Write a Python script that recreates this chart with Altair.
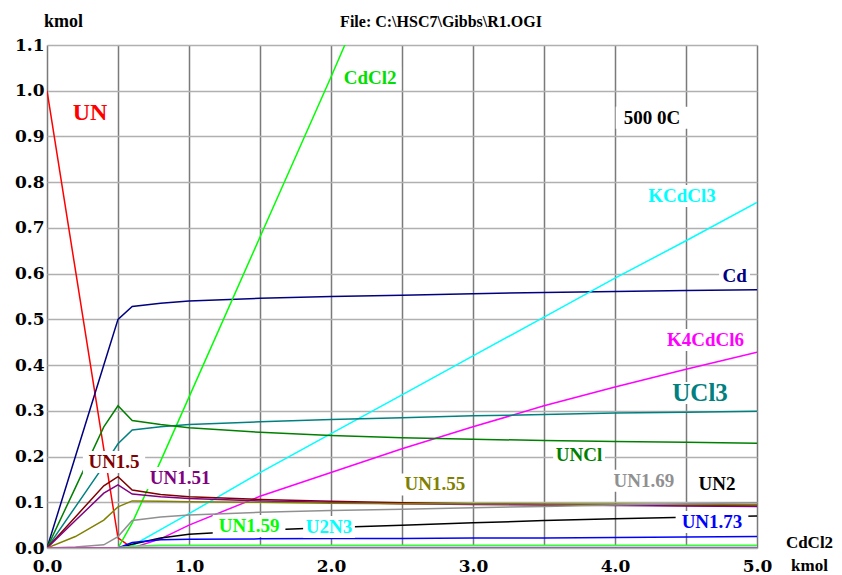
import altair as alt
import pandas as pd

# ---- data ----
x_vals = [0.0, 0.2, 0.4, 0.5, 0.6, 0.8, 1.0, 1.5, 2.0, 2.5, 3.0, 3.5, 4.0, 4.5, 5.0]

series_names = ["UN", "Cd", "CdCl2", "KCdCl3", "K4CdCl6", "UCl3", "UNCl",
                "UN1.5", "UN1.51", "UN1.55", "UN1.69", "UN2", "UN1.73",
                "U2N3", "UN1.59", "other"]
series_colors = ["#FF0000", "#000080", "#00FF00", "#00FFFF", "#FF00FF", "#008080", "#008000",
                 "#800000", "#800080", "#808000", "#909090", "#000000", "#0000FF",
                 "#7FFFD4", "#33FF33", "#E020C0"]

UN      = [1.0, 0.608, 0.216, 0.022, 0.0, 0, 0, 0, 0, 0, 0, 0, 0, 0, 0]
Cd      = [0, 0.2, 0.4, 0.5, 0.528, 0.535, 0.54, 0.546, 0.55, 0.553, 0.556, 0.559, 0.561, 0.563, 0.565]
CdCl2   = [0, 0, 0, 0, 0.055, 0.19, 0.33, 0.68, 1.03, 1.39, 1.75, 2.1, 2.46, 2.81, 3.17]
KCdCl3  = [0, 0, 0, 0, 0.005, 0.04, 0.075, 0.165, 0.25, 0.335, 0.42, 0.505, 0.59, 0.672, 0.756]
K4CdCl6 = [0, 0, 0, 0, 0, 0.02, 0.05, 0.113, 0.165, 0.217, 0.265, 0.311, 0.352, 0.391, 0.428]
UCl3    = [0, 0.09, 0.18, 0.228, 0.258, 0.265, 0.27, 0.276, 0.281, 0.285, 0.289, 0.292, 0.295, 0.297, 0.299]
UNCl    = [0, 0.132, 0.265, 0.311, 0.279, 0.27, 0.263, 0.253, 0.246, 0.241, 0.238, 0.235, 0.233, 0.231, 0.229]
UN1_5   = [0, 0.068, 0.136, 0.156, 0.127, 0.117, 0.112, 0.106, 0.102, 0.099, 0.097, 0.095, 0.094, 0.093, 0.092]
UN1_51  = [0, 0.06, 0.12, 0.138, 0.118, 0.112, 0.108, 0.103, 0.1, 0.097, 0.095, 0.094, 0.093, 0.092, 0.091]
UN1_55  = [0, 0.025, 0.061, 0.09, 0.103, 0.102, 0.101, 0.1, 0.098, 0.097, 0.097, 0.096, 0.096, 0.095, 0.095]
UN1_69  = [0, 0.002, 0.007, 0.025, 0.06, 0.068, 0.072, 0.078, 0.082, 0.085, 0.088, 0.091, 0.094, 0.097, 0.099]
UN2     = [0, 0, 0, 0, 0.008, 0.022, 0.03, 0.039, 0.045, 0.05, 0.055, 0.06, 0.064, 0.067, 0.07]
UN1_73  = [0, 0, 0, 0, 0.012, 0.018, 0.019, 0.02, 0.021, 0.021, 0.022, 0.022, 0.023, 0.024, 0.025]
U2N3    = [0, 0, 0, 0.001, 0.003, 0.003, 0.003, 0.003, 0.003, 0.003, 0.003, 0.003, 0.003, 0.003, 0.003]
UN1_59  = [0, 0, 0, 0, 0.004, 0.006, 0.006, 0.006, 0.006, 0.006, 0.006, 0.006, 0.006, 0.006, 0.006]
OTHER   = [0, 0, 0, 0, 0, 0, 0, 0, 0, 0, 0, 0, 0, 0, 0]

series_values = [UN, Cd, CdCl2, KCdCl3, K4CdCl6, UCl3, UNCl, UN1_5, UN1_51, UN1_55,
                 UN1_69, UN2, UN1_73, U2N3, UN1_59, OTHER]

# labels placed on the chart (data coordinates)
label_text  = ["UN", "CdCl2", "500 0C", "KCdCl3", "Cd", "K4CdCl6", "UCl3", "UNCl",
               "UN1.5", "UN1.51", "UN1.55", "UN1.69", "UN2", "UN1.59", "U2N3", "UN1.73"]
label_x     = [0.303, 2.275, 4.261, 4.472, 4.842, 4.637, 4.599, 3.747,
               0.472, 0.937, 2.732, 4.204, 4.718, 1.423, 1.986, 4.683]
label_y     = [0.952, 1.028, 0.941, 0.770, 0.595, 0.455, 0.339, 0.204,
               0.188, 0.153, 0.139, 0.147, 0.140, 0.048, 0.046, 0.057]
label_color = ["#FF0000", "#00E000", "#000000", "#00FFFF", "#000080", "#FF00FF", "#008080", "#008000",
               "#800000", "#800080", "#808000", "#909090", "#000000", "#00FF00", "#00FFFF", "#0000FF"]
label_size  = [24, 19, 19, 19, 19, 19, 25, 19, 19, 19, 19, 19, 19, 19, 19, 19]

rows = []
for name, vals in zip(series_names, series_values):
    for xv, yv in zip(x_vals, vals):
        rows.append({"series": name, "x": xv, "y": yv})
df = pd.DataFrame(rows)

W, H = 710, 503
X_MAX, Y_MAX = 5.0, 1.1
px_x = W / X_MAX
px_y = H / Y_MAX

lab = pd.DataFrame({"text": label_text, "x": label_x, "y": label_y,
                    "color": label_color, "size": label_size})
lab["hw"] = (lab["text"].str.len() * 0.55 * lab["size"] / 2 + 5) / px_x
lab["x1"] = lab["x"] - lab["hw"]
lab["x2"] = lab["x"] + lab["hw"]
lab["y1"] = lab["y"] - 11 / px_y
lab["y2"] = lab["y"] + 11 / px_y

FONT = "Liberation Serif"
TICK_FONT = "DejaVu Serif"
x_scale = alt.Scale(domain=[0, X_MAX], nice=False, zero=False)
y_scale = alt.Scale(domain=[0, Y_MAX], nice=False, zero=False)

x_axis = alt.Axis(
    values=[i * 0.5 for i in range(11)],
    labelExpr="datum.value % 1 == 0 ? format(datum.value, '.1f') : ''",
    grid=True, gridColor="#7a7a7a", gridWidth=1.5,
    ticks=False, domain=False,
    labelFont=TICK_FONT, labelFontSize=17, labelFontWeight="bold", labelColor="black",
    labelPadding=10, labelFlush=False,
    title=["CdCl2", "kmol"], titleFont=FONT, titleFontSize=17, titleFontWeight="bold",
    titleColor="black", titleX=762, titleY=-6, titleAlign="center", titleBaseline="middle",
    titleLineHeight=23,
)
y_axis = alt.Axis(
    values=[round(i * 0.1, 1) for i in range(12)], format=".1f",
    grid=True, gridColor="#b0b0b0", gridWidth=1.5,
    ticks=False, domain=False,
    labelFont=TICK_FONT, labelFontSize=17, labelFontWeight="bold", labelColor="black",
    labelPadding=3,
    title="kmol", titleFont=FONT, titleFontSize=18, titleFontWeight="bold", titleColor="black",
    titleAngle=0, titleX=16, titleY=-24, titleAlign="center", titleBaseline="middle",
)

lines = alt.Chart(df).mark_line(strokeWidth=1.5, clip=True).encode(
    x=alt.X("x:Q", scale=x_scale, axis=x_axis),
    y=alt.Y("y:Q", scale=y_scale, axis=y_axis),
    color=alt.Color("series:N", scale=alt.Scale(domain=series_names, range=series_colors),
                    legend=None),
)

boxes = alt.Chart(lab).mark_rect(color="white", clip=True).encode(
    x=alt.X("x1:Q", scale=x_scale), x2="x2:Q",
    y=alt.Y("y1:Q", scale=y_scale), y2="y2:Q",
)

texts = alt.Chart(lab).mark_text(font=FONT, fontWeight="bold", align="center",
                                 baseline="middle").encode(
    x=alt.X("x:Q", scale=x_scale),
    y=alt.Y("y:Q", scale=y_scale),
    text="text:N",
    color=alt.Color("color:N", scale=None),
    size=alt.Size("size:Q", scale=None),
)

title_df = pd.DataFrame({"t": ["File: C:\\HSC7\\Gibbs\\R1.OGI"]})
title = alt.Chart(title_df).mark_text(font=FONT, fontWeight="bold", fontSize=16,
                                      align="center", baseline="middle", color="black").encode(
    text="t:N", x=alt.value(394), y=alt.value(-23),
)

chart = alt.layer(lines, boxes, texts, title).properties(
    width=W, height=H,
    autosize=alt.AutoSizeParams(type="none"),
    padding={"left": 39, "top": 37, "right": 77, "bottom": 27},
).configure_view(stroke="black", strokeWidth=3).configure(background="white")

chart.save("out.html", embed_options={"renderer": "svg", "actions": False})
